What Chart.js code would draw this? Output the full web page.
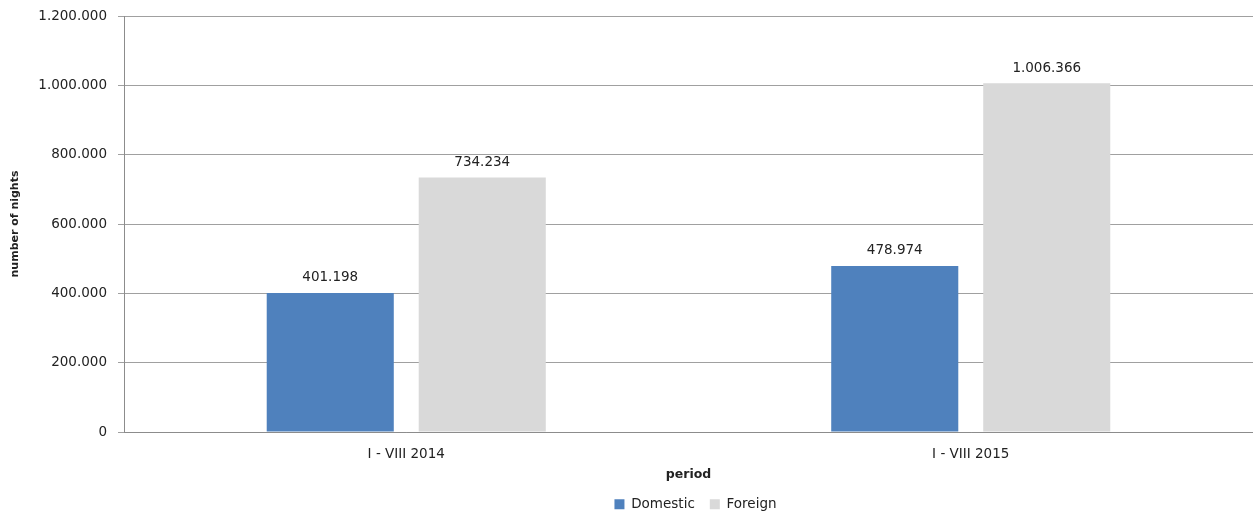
<!DOCTYPE html>
<html lang="en">
<head>
    <meta charset="UTF-8">
    <title>Number of nights</title>
    <script src="https://cdn.jsdelivr.net/npm/chart.js"></script>
    <style>
        html, body {
            margin: 0;
            padding: 0;
            background-color: #ffffff;
            overflow: hidden;
        }
        .chart-box {
            width: 1253px;
            height: 521px;
        }
    </style>
</head>
<body>
<div class="chart-box">
    <canvas id="nightsChart"></canvas>
</div>

<script>
    const periods = ['I - VIII 2014', 'I - VIII 2015'];
    const domestic = [401198, 478974];
    const foreign = [734234, 1006366];
    const yMax = 1200000;
    const yStep = 200000;

    const FONT = "'DejaVu Sans', sans-serif";
    const TEXT = '#222222';

    // 1234567 -> "1.234.567"
    function fmt(v) {
        return String(Math.round(v)).replace(/\B(?=(\d{3})+(?!\d))/g, '.');
    }

    // values above the bars
    const valueLabels = {
        id: 'valueLabels',
        afterDatasetsDraw(chart) {
            const ctx = chart.ctx;
            ctx.save();
            ctx.font = '13.5px ' + FONT;
            ctx.fillStyle = TEXT;
            ctx.textAlign = 'center';
            ctx.textBaseline = 'middle';
            chart.data.datasets.forEach((ds, i) => {
                chart.getDatasetMeta(i).data.forEach((bar, j) => {
                    ctx.fillText(fmt(ds.data[j]), bar.x, bar.y - 15);
                });
            });
            ctx.restore();
        }
    };

    // centre the legend under the plot area instead of the whole canvas
    const legendShift = {
        id: 'legendShift',
        afterLayout(chart) {
            const lg = chart.legend;
            const shift = 69;
            lg.left = shift;
            lg.right = chart.width + shift;
        }
    };

    new Chart(document.getElementById('nightsChart'), {
        type: 'bar',
        data: {
            labels: periods,
            datasets: [
                {
                    label: 'Domestic',
                    data: domestic,
                    backgroundColor: '#4f81bd',
                    barPercentage: 0.836,
                    categoryPercentage: 0.5385
                },
                {
                    label: 'Foreign',
                    data: foreign,
                    backgroundColor: '#d9d9d9',
                    barPercentage: 0.836,
                    categoryPercentage: 0.5385
                }
            ]
        },
        plugins: [valueLabels, legendShift],
        options: {
            responsive: true,
            maintainAspectRatio: false,
            animation: false,
            layout: {
                padding: { top: 16, right: 0, bottom: 0, left: 0 }
            },
            plugins: {
                tooltip: { enabled: false },
                legend: {
                    position: 'bottom',
                    labels: {
                        font: { family: FONT, size: 13.5 },
                        color: TEXT,
                        boxWidth: 10,
                        boxHeight: 10,
                        padding: 15
                    }
                }
            },
            scales: {
                x: {
                    grid: { display: false },
                    border: { display: true, color: '#8c8c8c', width: 1 },
                    ticks: {
                        font: { family: FONT, size: 13.5 },
                        color: TEXT,
                        padding: 6
                    },
                    title: {
                        display: true,
                        text: 'period',
                        font: { family: FONT, size: 12.5, weight: 'bold' },
                        color: TEXT,
                        padding: { top: 0, bottom: 0 }
                    },
                    afterFit(scale) {
                        scale.height = 50.5;
                    }
                },
                y: {
                    min: 0,
                    max: yMax,
                    ticks: {
                        stepSize: yStep,
                        font: { family: FONT, size: 13.5 },
                        color: TEXT,
                        padding: 11,
                        callback: v => fmt(v)
                    },
                    grid: {
                        color: '#a0a0a0',
                        lineWidth: 1,
                        tickLength: 6
                    },
                    border: { display: true, color: '#8c8c8c', width: 1 },
                    title: {
                        display: true,
                        text: 'number of nights',
                        font: { family: FONT, size: 11, weight: 'bold' },
                        color: TEXT,
                        padding: { top: 9, bottom: 0 }
                    },
                    afterFit(scale) {
                        scale.width = 124;
                        scale.paddingTop = 0;
                        scale.paddingBottom = 0;
                    }
                }
            }
        }
    });
</script>
</body>
</html>
